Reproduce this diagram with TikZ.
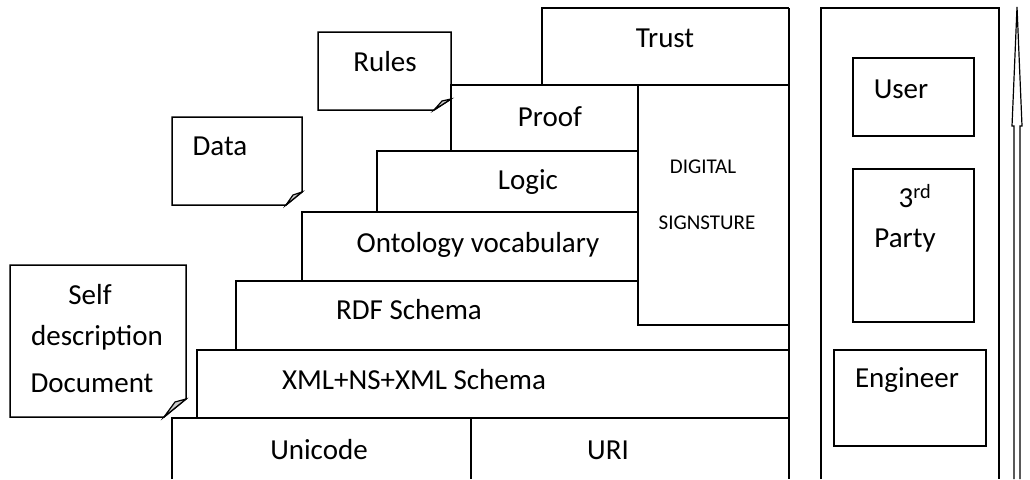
\documentclass[tikz,border=0pt]{standalone}
\usepackage{fontspec}
\setmainfont{Carlito}
\begin{document}
\begin{tikzpicture}[x=1pt,y=-1pt,line width=1.5pt,
  lbl/.style={font=\fontsize{29}{33}\selectfont,inner sep=0pt,anchor=center},
  small/.style={font=\fontsize{21}{24}\selectfont,inner sep=0pt,anchor=center},
  fold/.style={fill=black!20,line width=1.2pt}]
\useasboundingbox (0,0) rectangle (1030,479);
% layer stack
\draw (542,85) -- (542,8) -- (789,8);
\draw (451,151) -- (451,85) -- (789,85);
\draw (638,85) rectangle (789,325);
\draw (377,212) -- (377,151) -- (638,151);
\draw (302,281) -- (302,212) -- (638,212);
\draw (236,350) -- (236,281) -- (638,281);
\draw (197,418) -- (197,350) -- (789,350);
\draw (172,479) -- (172,418) -- (789,418);
\draw (471,418) -- (471,479);
\draw (789,8) -- (789,479);
% documents
\draw (164,417) -- (10,417) -- (10,265) -- (186,265) -- (186,399) -- cycle;
\draw[fold] (164,417) -- (186,399) -- (175,402) -- cycle;
\draw (286,205) -- (172,205) -- (172,117) -- (302,117) -- (302,192) -- cycle;
\draw[fold] (286,205) -- (302,192) -- (293,195) -- cycle;
\draw (434,110) -- (318,110) -- (318,32) -- (451,32) -- (451,99) -- cycle;
\draw[fold] (434,110) -- (451,99) -- (442,101) -- cycle;
% right panel
\draw (821,479) -- (821,8) -- (999,8) -- (999,479);
\draw (853,58) rectangle (974,136);
\draw (853,169) rectangle (974,322);
\draw (834,350) rectangle (986,446);
% arrow
\draw[line width=1.2pt] (1014,479) -- (1014,126) -- (1012,126) -- (1017,7) -- (1022,126) -- (1020,126) -- (1020,479);
% labels
\node[lbl] (trust) at (665,38) {Trust};
\node[lbl] (rules) at (385,62) {Rules};
\node[lbl] (proof) at (550,117) {Proof};
\node[lbl] (data) at (220,146) {Data};
\node[lbl] (logic) at (528,182) {Logic};
\node[small] (dig) at (703,167) {DIGITAL};
\node[small] (sig) at (707,223) {SIGNSTURE};
\node[lbl] (onto) at (478,245) {Ontology vocabulary};
\node[lbl] (rdf) at (409,310) {RDF Schema};
\node[lbl] (self) at (90,295) {Self};
\node[lbl] (desc) at (97,338) {description};
\node[lbl] (doc) at (92,383) {Document};
\node[lbl] (xml) at (414,380) {XML+NS+XML Schema};
\node[lbl] (uni) at (319,450) {Unicode};
\node[lbl] (uri) at (608,450) {URI};
\node[lbl] (user) at (901,89) {User};
\node[lbl] (third) at (915,196) {3\textsuperscript{rd}};
\node[lbl] (party) at (905,241) {Party};
\node[lbl] (eng) at (907,380) {Engineer};
\end{tikzpicture}
\end{document}
